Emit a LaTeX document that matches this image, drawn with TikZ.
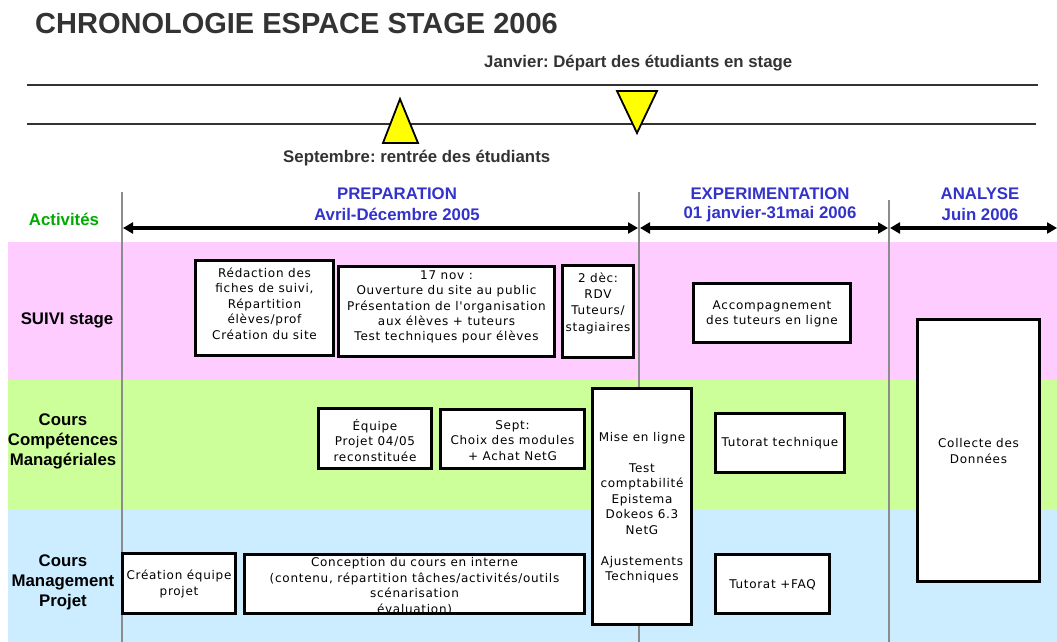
\documentclass[tikz,border=0pt]{standalone}
\usepackage{fontspec}
\setmainfont{Liberation Sans}
\newfontfamily\boxfont[LetterSpace=6]{DejaVu Sans}
\usetikzlibrary{arrows.meta}
\definecolor{pinkband}{HTML}{FFCCFF}
\definecolor{greenband}{HTML}{CCFF99}
\definecolor{blueband}{HTML}{CCECFF}
\definecolor{phaseblue}{HTML}{3333CC}
\definecolor{actgreen}{HTML}{00AA00}
\definecolor{titlegray}{HTML}{333333}
\definecolor{sepgray}{HTML}{8C8C8C}
\definecolor{tri}{HTML}{FFFF00}
\frenchspacing
\begin{document}
\begin{tikzpicture}[x=1pt,y=-1pt,
  boxframe/.style={draw=black,line width=2.6pt,fill=white},
  boxtext/.style={inner sep=0pt,align=center,font=\frenchspacing\boxfont\fontsize{12}{15.5}\selectfont},
  lbl/.style={inner sep=0pt,align=center,font=\frenchspacing\bfseries\fontsize{16.8}{20}\selectfont},
  phase/.style={lbl,text=phaseblue},
  sepline/.style={draw=sepgray,line width=1.2pt},
  timeline/.style={draw=titlegray,line width=1.4pt},
  period/.style={line width=3.4pt,{Triangle[length=10pt,width=11pt]}-{Triangle[length=10pt,width=11pt]}},
  marker/.style={draw=black,line width=1.8pt,fill=tri,line join=miter}]
\useasboundingbox (0,0) rectangle (1057,642);
% bands
\fill[pinkband] (8,242) rectangle (1057,380);
\fill[greenband] (8,380) rectangle (1057,510);
\fill[blueband] (8,510) rectangle (1057,642);
% title
\node[inner sep=0pt,anchor=west,text=titlegray,font=\bfseries\fontsize{29}{33}\selectfont] (title) at (35,24) {CHRONOLOGIE ESPACE STAGE 2006};
% timeline
\coordinate (l1a) at (27,85); \coordinate (l1b) at (1038,85);
\coordinate (l2a) at (27,124); \coordinate (l2b) at (1036,124);
\draw[timeline] (l1a) -- (l1b);
\draw[timeline] (l2a) -- (l2b);
\draw[marker] (383,143) -- (418,143) -- (400,99) -- cycle;
\draw[marker] (617,91) -- (657,91) -- (637,133) -- cycle;
\node[lbl,text=titlegray,anchor=west] (janv) at (484,63) {Janvier: Départ des étudiants en stage};
\node[lbl,text=titlegray,anchor=west] (sept) at (283,158) {Septembre: rentrée des étudiants};
% separators
\coordinate (s1t) at (122,192); \coordinate (s1b) at (122,642);
\coordinate (s2t) at (639,192); \coordinate (s2b) at (639,642);
\coordinate (s3t) at (889,200); \coordinate (s3b) at (889,642);
\draw[sepline] (s1t) -- (s1b);
\draw[sepline] (s2t) -- (s2b);
\draw[sepline] (s3t) -- (s3b);
% periods
\coordinate (p0) at (123,228); \coordinate (p1a) at (638,228); \coordinate (p1b) at (640,228);
\coordinate (p2a) at (888,228); \coordinate (p2b) at (890,228); \coordinate (p3) at (1057,228);
\draw[period] (p0) -- (p1a);
\draw[period] (p1b) -- (p2a);
\draw[period] (p2b) -- (p3);
\node[phase] (prep) at (397,194) {PREPARATION};
\node[phase] (prepd) at (397,214) {Avril-Décembre 2005};
\node[phase] (expe) at (770,194) {EXPERIMENTATION};
\node[phase] (exped) at (770,214) {01 janvier-31mai 2006};
\node[phase] (anal) at (980,194) {ANALYSE};
\node[phase] (anald) at (980,214) {Juin 2006};
% row labels
\node[lbl,text=actgreen] (act) at (64,219) {Activités};
\node[lbl] (r1) at (67,320) {SUIVI stage};
\node[lbl] (r2) at (63,441) {Cours\\Compétences\\Managériales};
\node[lbl] (r3) at (63,582) {Cours\\Management\\Projet};
% boxes
\draw[boxframe] (195.3,260.3) rectangle (333.7,355.7);
\node[boxtext] (t1) at (264.5,303.5) {Rédaction des\\fiches de suivi,\\Répartition\\élèves/prof\\Création du site};
\draw[boxframe] (338.3,266.3) rectangle (554.7,356.7);
\node[boxtext,font=\frenchspacing\boxfont\fontsize{12}{15.2}\selectfont] (t2) at (446.5,307) {17 nov :\\Ouverture du site au public\\Présentation de l'organisation\\aux élèves + tuteurs\\Test techniques pour élèves};
\draw[boxframe] (562.3,265.3) rectangle (633.7,357.7);
\node[boxtext,font=\frenchspacing\boxfont\fontsize{12}{16.3}\selectfont] (t3) at (598,303) {2 dèc:\\RDV\\Tuteurs/\\stagiaires};
\draw[boxframe] (693.3,283.3) rectangle (850.7,342.7);
\node[boxtext] (t4) at (772,314) {Accompagnement\\des tuteurs en ligne};
\draw[boxframe] (917.3,319.3) rectangle (1039.7,581.7);
\node[boxtext] (t5) at (978.5,451) {Collecte des\\Données};
\draw[boxframe] (318.3,408.3) rectangle (431.7,468.7);
\node[boxtext] (t6) at (375,440.5) {Équipe\\Projet 04/05\\reconstituée};
\draw[boxframe] (440.3,409.3) rectangle (584.7,468.7);
\node[boxtext] (t7) at (512.5,440.5) {Sept:\\Choix des modules\\+ Achat NetG};
\draw[boxframe] (592.3,388.3) rectangle (691.7,624.7);
\node[boxtext] (t8) at (642,507.5) {Mise en ligne\\[15.5pt]Test\\comptabilité\\Epistema\\Dokeos 6.3\\NetG\\[15.5pt]Ajustements\\Techniques};
\draw[boxframe] (715.3,413.3) rectangle (844.7,472.7);
\node[boxtext] (t9) at (780,443) {Tutorat technique};
\draw[boxframe] (122.3,553.3) rectangle (235.7,613.7);
\node[boxtext] (t10) at (179,584) {Création équipe\\projet};
\draw[boxframe] (244.3,554.3) rectangle (584.7,613.7);
\node[boxtext] (t11) at (414.5,586) {Conception du cours en interne\\(contenu, répartition tâches/activités/outils\\scénarisation\\évaluation)};
\draw[boxframe] (715.3,554.3) rectangle (829.7,613.7);
\node[boxtext] (t12) at (772.5,585) {Tutorat +FAQ};
\end{tikzpicture}
\end{document}
